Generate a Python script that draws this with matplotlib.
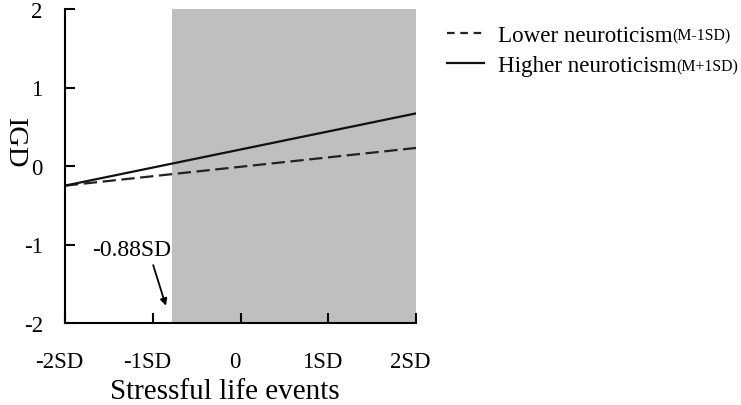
import matplotlib.pyplot as plt
import matplotlib.transforms as mtransforms
import numpy as np

# data
x_pos = [-2, 2]
lower_igd = [-0.25, 0.23]   # M-1SD neuroticism
higher_igd = [-0.25, 0.67]  # M+1SD neuroticism
region_start = -0.78
region_label = '-0.88SD'
x_ticks = [-2, -1, 0, 1, 2]
x_ticklabels = ['-2SD', '-1SD', '0', '1SD', '2SD']
y_ticks = [-2, -1, 0, 1, 2]

plt.rcParams['font.family'] = ['Liberation Serif', 'DejaVu Serif']
plt.rcParams['axes.unicode_minus'] = False

fig = plt.figure(figsize=(7.41, 4.06), dpi=100)
ax = fig.add_axes([65/741, 1-324/406, (416-65)/741, (324-10)/406])

ax.axvspan(region_start, 2, color='#bfbfbf', lw=0, zorder=0)
ax.plot(x_pos, lower_igd, color='#222222', lw=1.6, dashes=(6, 2.5), label='Lower neuroticism')
ax.plot(x_pos, higher_igd, color='#111111', lw=1.6, label='Higher neuroticism')

ax.set_xlim(-2, 2)
ax.set_ylim(-2, 2)
ax.set_xticks(x_ticks)
ax.set_xticklabels(x_ticklabels)
ax.set_yticks(y_ticks)
ax.tick_params(axis='both', direction='in', length=7, width=1.5, labelsize=16.5)
ax.tick_params(axis='x', pad=20)
ax.tick_params(axis='y', pad=16)
# x tick labels sit a little left of their ticks in the original
shift = mtransforms.ScaledTranslation(-6/100, 0, fig.dpi_scale_trans)
for lbl in ax.get_xticklabels():
    lbl.set_transform(lbl.get_transform() + shift)
for s in ['top', 'right']:
    ax.spines[s].set_visible(False)
for s in ['left', 'bottom']:
    ax.spines[s].set_linewidth(1.5)

ax.set_xlabel('Stressful life events', fontsize=21)
ax.xaxis.set_label_coords(0.455, -0.175)
ax.xaxis.label.set_va('top')
ax.set_ylabel('IGD', fontsize=20.5, rotation=270, va='bottom')
ax.yaxis.set_label_coords(-0.18, 0.58)

ax.annotate(region_label, xy=(-0.85, -1.78), xytext=(-1.24, -1.06),
            fontsize=17, ha='center', va='center',
            arrowprops=dict(arrowstyle='-|>', color='black', lw=1.3,
                            relpos=(0.75, 0), shrinkA=2, shrinkB=0, mutation_scale=10))

leg = fig.legend(loc='upper left', bbox_to_anchor=(447/741, 1-26/406), frameon=False,
                 fontsize=16.6, handlelength=1.6, handletextpad=0.6, labelspacing=0.4,
                 borderaxespad=0, borderpad=0)
leg_lines = leg.get_lines()
for h in leg_lines:
    h.set_linewidth(1.6)
leg_lines[0].set_dashes((3.4, 2.6))

# smaller "(M±1SD)" part after each legend label
fig.canvas.draw()
r = fig.canvas.get_renderer()
for t, extra in zip(leg.get_texts(), ['(M-1SD)', '(M+1SD)']):
    bb = t.get_window_extent(r)
    fig.text(bb.x1 / fig.bbox.width, (bb.y0 + 0.3 * bb.height) / fig.bbox.height, extra,
             fontsize=11.4, ha='left', va='baseline')

plt.savefig('out.png', dpi=100)
